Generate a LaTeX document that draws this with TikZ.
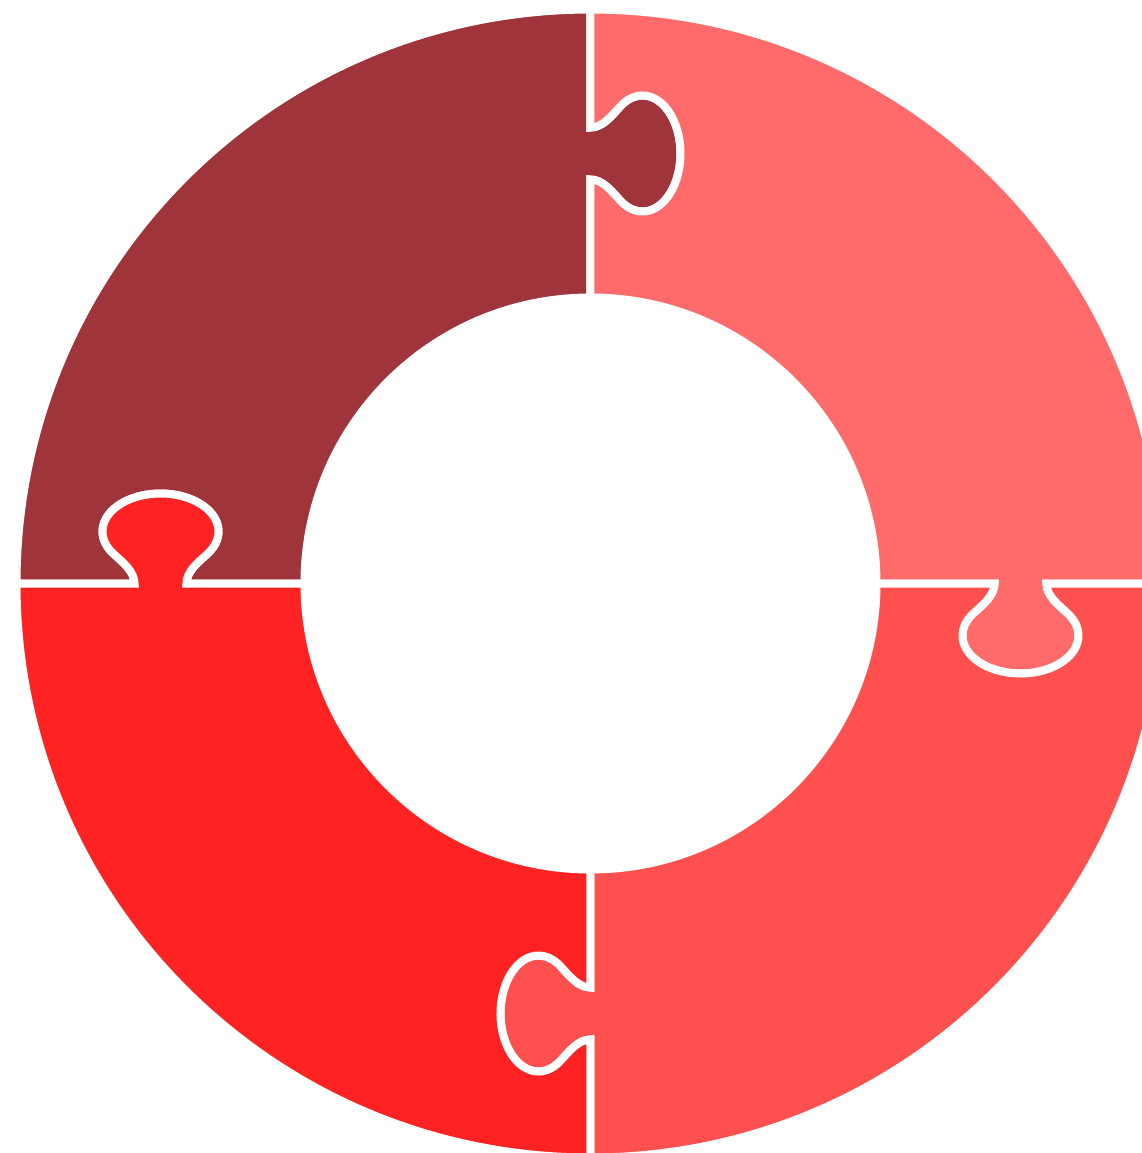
\documentclass[tikz,border=0pt]{standalone}
\definecolor{pdark}{RGB}{160,52,59}
\definecolor{plight}{RGB}{255,107,107}
\definecolor{pmid}{RGB}{255,80,80}
\definecolor{pred}{RGB}{255,34,34}
\newcommand\puzzlepiece{%
  (0,286) -- (0,404)
  .. controls (12,404) and (20.5,393) .. (30,382.7)
  arc[start angle=-125.4, end angle=125.4, x radius=38, y radius=58]
  .. controls (20.5,467) and (12,456) .. (0,456)
  -- (0,574) arc[start angle=90, end angle=180, radius=574]
  -- (-456,0)
  .. controls (-456,12) and (-467,20.5) .. (-477.3,30)
  arc[start angle=215.4, end angle=-35.4, x radius=58, y radius=38]
  .. controls (-393,20.5) and (-404,12) .. (-404,0)
  -- (-286,0) arc[start angle=180, end angle=90, radius=286] -- cycle}
\tikzset{piece/.style={draw=white, line width=0.08cm, line join=miter}}
\begin{document}
\begin{tikzpicture}[x=0.01cm,y=0.01cm]
\useasboundingbox (-590.5,-569.5) rectangle (551.5,583.5);
\clip (-590.5,-569.5) rectangle (551.5,583.5);
\fill[white] (-590.5,-569.5) rectangle (551.5,583.5);
\begin{scope}[rotate=0]
  \path[piece, fill=pdark] \puzzlepiece;
\end{scope}
\begin{scope}[rotate=-90]
  \path[piece, fill=plight] \puzzlepiece;
\end{scope}
\begin{scope}[rotate=-180]
  \path[piece, fill=pmid] \puzzlepiece;
\end{scope}
\begin{scope}[rotate=-270]
  \path[piece, fill=pred] \puzzlepiece;
\end{scope}
\end{tikzpicture}
\end{document}
